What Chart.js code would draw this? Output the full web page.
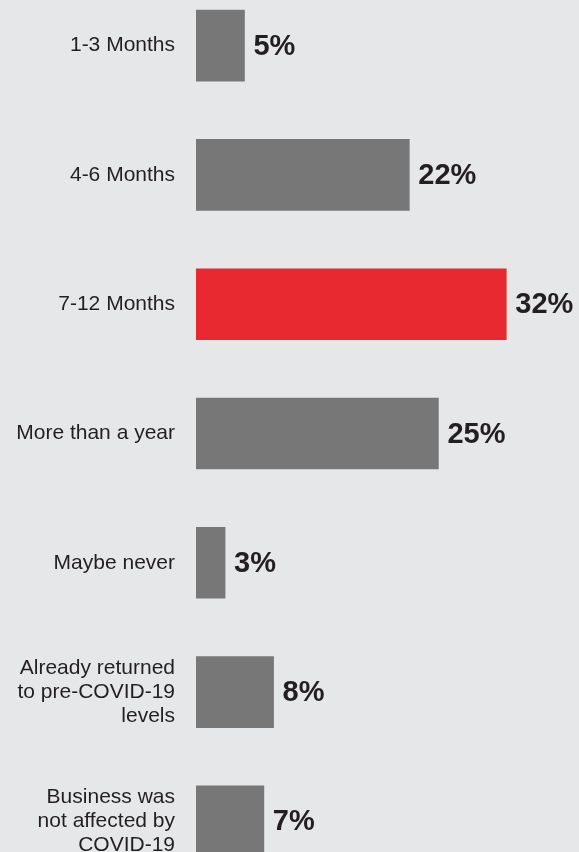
<!DOCTYPE html>
<html>
<head>
<meta charset="utf-8">
<script src="https://cdn.jsdelivr.net/npm/chart.js@4"></script>
<style>
  html, body { margin: 0; padding: 0; width: 579px; height: 852px; overflow: hidden; background: #e6e7e8; }
  #wrap { position: absolute; left: 0; top: -19px; width: 579px; height: 905px; }
</style>
</head>
<body>
<div id="wrap"><canvas id="myChart"></canvas></div>
<script>
var categories = [
  '1-3 Months',
  '4-6 Months',
  '7-12 Months',
  'More than a year',
  'Maybe never',
  ['Already returned', 'to pre-COVID-19', 'levels'],
  ['Business was', 'not affected by', 'COVID-19']
];
var values = [5, 22, 32, 25, 3, 8, 7];
var highlight = '7-12 Months';

var GREY = '#777778';
var RED = '#e8292f';
var TEXT = '#231f20';

// value labels to the right of each bar
var valueLabels = {
  id: 'valueLabels',
  afterDatasetsDraw: function (chart) {
    var ctx = chart.ctx;
    var meta = chart.getDatasetMeta(0);
    ctx.save();
    ctx.font = 'bold 29px "Liberation Sans", Arial, sans-serif';
    ctx.fillStyle = TEXT;
    ctx.textAlign = 'left';
    ctx.textBaseline = 'middle';
    meta.data.forEach(function (bar, i) {
      ctx.fillText(values[i] + '%', bar.x + 9, bar.y + 1);
    });
    ctx.restore();
  }
};

var ctx = document.getElementById('myChart');
new Chart(ctx, {
  type: 'bar',
  data: {
    labels: categories,
    datasets: [{
      data: values,
      backgroundColor: categories.map(function (c) { return c === highlight ? RED : GREY; }),
      barThickness: 71,
      borderWidth: 0
    }]
  },
  options: {
    indexAxis: 'y',
    responsive: true,
    maintainAspectRatio: false,
    animation: false,
    layout: { padding: 0 },
    plugins: {
      legend: { display: false },
      tooltip: { enabled: false }
    },
    scales: {
      x: {
        display: false,
        min: 0,
        max: 39.5
      },
      y: {
        afterFit: function (scale) {
          scale.width = 196;
          // labels may spill past the canvas edge, like the original
          scale.paddingTop = 0;
          scale.paddingBottom = 0;
        },
        grid: { display: false, drawTicks: false },
        border: { display: false },
        ticks: {
          padding: 21,
          color: TEXT,
          font: { family: '"Liberation Sans", Arial, sans-serif', size: 21, lineHeight: 1.15 }
        }
      }
    }
  },
  plugins: [valueLabels]
});
</script>
</body>
</html>
